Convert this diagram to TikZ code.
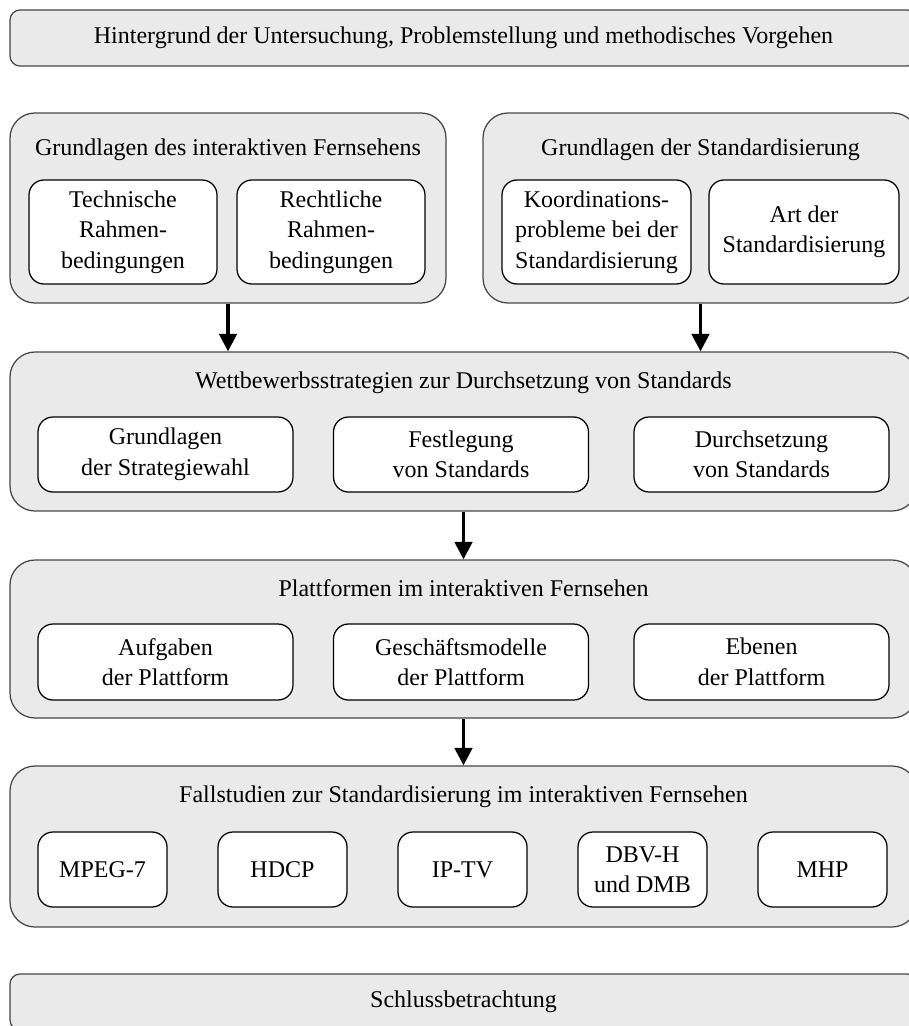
\documentclass[tikz,border=0pt]{standalone}
\usepackage{fontspec}
\setmainfont{Liberation Serif}
\usepackage{tikz}
\usetikzlibrary{arrows.meta, positioning}
\definecolor{groupFill}{RGB}{234,234,234}
\definecolor{groupBorder}{RGB}{70,70,70}
\definecolor{arrowBlack}{RGB}{0,0,0}

\begin{document}
\begin{tikzpicture}[
    x=0.4pt, y=-0.4pt,
    % Wide single-line bar (introduction / conclusion)
    bar/.style={
        rectangle, rounded corners=4pt,
        draw=groupBorder, fill=groupFill,
        line width=0.5pt,
        minimum width=362.8pt, minimum height=22.4pt,
        font=\fontsize{9.6}{12.2}\selectfont, inner sep=0pt
    },
    % Grey container of a chapter: \node[group=WIDTH/HEIGHT]
    group/.style args={#1/#2}{
        rectangle, rounded corners=10pt,
        draw=groupBorder, fill=groupFill,
        line width=0.5pt,
        minimum width=#1, minimum height=#2, inner sep=0pt
    },
    % Chapter title inside a container
    title/.style={font=\fontsize{9.6}{12.2}\selectfont, inner sep=0pt},
    % White section box: \node[sec=WIDTH/HEIGHT]
    sec/.style args={#1/#2}{
        rectangle, rounded corners=6pt,
        draw=black, fill=white,
        line width=0.5pt, align=center,
        minimum width=#1, minimum height=#2,
        font=\fontsize{9.6}{12.2}\selectfont, inner sep=0pt
    },
    flow/.style={-{Triangle[width=7pt, length=7pt]},
                 line width=1.3pt, draw=arrowBlack}
]
\useasboundingbox (0,0) rectangle (908,1026);
% ── Introduction ─────────────────────────────────────────────
\node[bar] (intro) at (463.5, 38)
    {Hintergrund der Untersuchung, Problemstellung und methodisches Vorgehen};
% ── Foundations: two containers side by side ─────────────────
\node[group=174.4pt/76pt] (grundTV)  at (228,   208) {};
\node[group=174pt/76pt]   (grundStd) at (700.5, 208) {};
\node[title] (tvTitle)  at (228,   150) {Grundlagen des interaktiven Fernsehens};
\node[title] (stdTitle) at (700.5, 150) {Grundlagen der Standardisierung};
\node[sec=75.2pt/41.6pt] (technik) at (123,   232) {Technische\\ Rahmen-\\ bedingungen};
\node[sec=75.2pt/41.6pt] (recht)   at (331,   232) {Rechtliche\\ Rahmen-\\ bedingungen};
\node[sec=75.6pt/41.6pt] (koord)   at (596.5, 232) {Koordinations-\\ probleme bei der\\ Standardisierung};
\node[sec=76pt/41.6pt]   (art)     at (804,   232) {Art der\\ Standardisierung};
% ── Competitive strategies ───────────────────────────────────
\node[group=362.8pt/63.6pt] (wett) at (463.5, 431.5) {};
\node[title] (wettTitle) at (463.5, 383)
    {Wettbewerbsstrategien zur Durchsetzung von Standards};
\node[sec=102pt/30pt] (strategie)  at (165.5, 454.5) {Grundlagen\\ der Strategiewahl};
\node[sec=102pt/30pt] (festlegung) at (461,   454.5) {Festlegung\\ von Standards};
\node[sec=102pt/30pt] (durchsetz)  at (761.5, 454.5) {Durchsetzung\\ von Standards};
% ── Platforms ────────────────────────────────────────────────
\node[group=362.8pt/63.2pt] (platt) at (463.5, 639) {};
\node[title] (plattTitle) at (463.5, 588) {Plattformen im interaktiven Fernsehen};
\node[sec=102pt/30.4pt] (aufgaben) at (165.5, 662) {Aufgaben\\ der Plattform};
\node[sec=102pt/30.4pt] (modelle)  at (461,   662) {Geschäftsmodelle\\ der Plattform};
\node[sec=102pt/30.4pt] (ebenen)   at (761.5, 662) {Ebenen\\ der Plattform};
% ── Case studies ─────────────────────────────────────────────
\node[group=362.8pt/64.4pt] (fall) at (463.5, 846.5) {};
\node[title] (fallTitle) at (463.5, 797)
    {Fallstudien zur Standardisierung im interaktiven Fernsehen};
\node[sec=51.6pt/30pt] (mpeg) at (102.5, 869.5) {MPEG-7};
\node[sec=51.6pt/30pt] (hdcp) at (282.5, 869.5) {HDCP};
\node[sec=51.6pt/30pt] (iptv) at (462.5, 869.5) {IP-TV};
\node[sec=51.6pt/30pt] (dvbh) at (642.5, 869.5) {DBV-H\\ und DMB};
\node[sec=51.6pt/30pt] (mhp)  at (822.5, 869.5) {MHP};
% ── Conclusion ───────────────────────────────────────────────
\node[bar] (schluss) at (463.5, 1002) {Schlussbetrachtung};
% ── ARROWS ───────────────────────────────────────────────────
\draw[flow] (grundTV.south)  -- (grundTV.south |- wett.north);
\draw[flow] (grundStd.south) -- (grundStd.south |- wett.north);
\draw[flow] (wett.south)     -- (platt.north);
\draw[flow] (platt.south)    -- (fall.north);
\end{tikzpicture}
\end{document}
